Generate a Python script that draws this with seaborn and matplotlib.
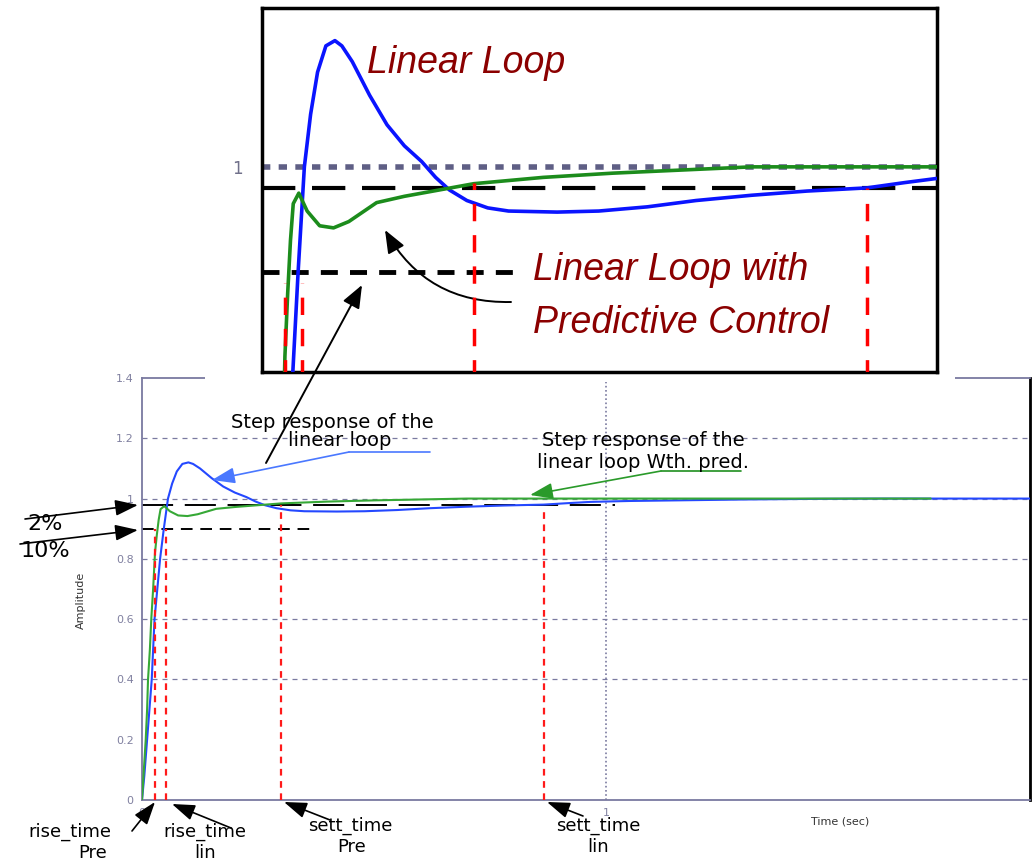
import numpy as np
import pandas as pd
import matplotlib
matplotlib.use("Agg")
import matplotlib.pyplot as plt
import seaborn as sns
from matplotlib.patches import Rectangle

# ---------------- data ----------------
t_lin = [0.000, 0.005, 0.010, 0.015, 0.021, 0.027, 0.033, 0.039, 0.047, 0.056,
         0.065, 0.075, 0.087, 0.100, 0.110, 0.125, 0.150, 0.175, 0.200, 0.225,
         0.245, 0.265, 0.290, 0.320, 0.350, 0.420, 0.480, 0.550, 0.620, 0.700,
         0.780, 0.866, 0.920, 0.967, 1.050, 1.150, 1.300, 1.450, 1.600, 1.914]
y_lin = [0.000, 0.080, 0.180, 0.280, 0.400, 0.600, 0.700, 0.800, 0.900, 1.000,
         1.050, 1.090, 1.115, 1.120, 1.115, 1.100, 1.068, 1.040, 1.020, 1.005,
         0.990, 0.978, 0.968, 0.961, 0.958, 0.957, 0.958, 0.962, 0.968, 0.973,
         0.977, 0.980, 0.985, 0.989, 0.992, 0.994, 0.997, 0.999, 1.000, 1.000]

t_pre = [0.000, 0.004, 0.008, 0.011, 0.013, 0.017, 0.020, 0.024, 0.028, 0.032,
         0.036, 0.040, 0.048, 0.060, 0.078, 0.098, 0.120, 0.160, 0.200, 0.250,
         0.300, 0.350, 0.400, 0.500, 0.600, 0.700, 1.700]
y_pre = [0.000, 0.100, 0.200, 0.300, 0.400, 0.500, 0.600, 0.700, 0.820, 0.880,
         0.930, 0.965, 0.975, 0.958, 0.944, 0.942, 0.948, 0.966, 0.972, 0.978,
         0.984, 0.987, 0.990, 0.994, 0.997, 1.000, 1.000]

y_ticks = [0, 0.2, 0.4, 0.6, 0.8, 1.0, 1.2, 1.4]
y_tick_labels = ["0", "0.2", "0.4", "0.6", "0.8", "1", "1.2", "1.4"]
x_ticks = [0, 1]
x_tick_labels = ["0", "1"]
grid_levels = [0.4, 0.6, 0.8, 1.0, 1.2]
grid_times = [1.0]

band_2pct = 0.98
band_10pct = 0.90
marker_times = [0.028, 0.052, 0.30, 0.866]      # rise Pre, rise lin, sett Pre, sett lin
marker_tops_main = [0.90, 0.90, 0.98, 0.97]
marker_tops_inset = [0.89, 0.89, 0.985, 0.98]

# ---------------- style ----------------
sns.set_theme(style="white")
plt.rcParams['font.family'] = ['DejaVu Sans']

W, H = 1034, 864
fig = plt.figure(figsize=(W / 100, H / 100), dpi=100)
fig.patch.set_facecolor('white')

def fx(x):
    return x / W

def fy(y):
    return 1 - y / H

def P(x, y):
    return (x, H - y)

BLUE_M, GREEN_M = '#2448ff', '#36a836'
BLUE_I, GREEN_I = '#0a14ff', '#1c8c1c'
SPINE = '#7a7aa0'

df_lin = pd.DataFrame({"t": t_lin, "y": y_lin})
df_pre = pd.DataFrame({"t": t_pre, "y": y_pre})

# ---------------- main axes ----------------
ax = fig.add_axes([fx(142), fy(800), 888 / W, 422 / H])
ax.set_zorder(0)
ax.set_facecolor('white')

for g in grid_levels:
    ax.axhline(g, color=SPINE, lw=0.9, dashes=(4, 4), zorder=1)
for g in grid_times:
    ax.axvline(g, color=SPINE, lw=1.2, dashes=(1, 1.5), zorder=1)

ax.hlines(band_2pct, 0, 1.02, color='black', lw=1.4, linestyles=(0, (16, 6)), zorder=2)
ax.hlines(band_10pct, 0, 0.366, color='black', lw=1.4, linestyles=(0, (6, 4)), zorder=2)
for tm, top in zip(marker_times, marker_tops_main):
    ax.vlines(tm, 0, top, color='#ff1a1a', lw=1.6, linestyles=(0, (3, 2.5)), zorder=4)

sns.lineplot(data=df_lin, x="t", y="y", ax=ax, color=BLUE_M, lw=1.5,
             estimator=None, sort=False, zorder=3)
sns.lineplot(data=df_pre, x="t", y="y", ax=ax, color=GREEN_M, lw=1.5,
             estimator=None, sort=False, zorder=3)

ax.set_xlim(0, 1.914)
ax.set_ylim(0, 1.4)
ax.set_yticks(y_ticks)
ax.set_yticklabels(y_tick_labels)
ax.set_xticks(x_ticks)
ax.set_xticklabels(x_tick_labels)
ax.tick_params(axis='both', length=0, labelsize=8, labelcolor='#8080a0', pad=6)
ax.set_xlabel("Time (sec)", fontsize=8, color='#333333')
ax.set_ylabel("Amplitude", fontsize=8, color='#333333')
ax.xaxis.set_label_coords((840 - 142) / 888, (800 - 816) / 422)
ax.yaxis.set_label_coords((86 - 142) / 888, (800 - 600) / 422)
for s in ['left', 'bottom', 'top']:
    ax.spines[s].set_color(SPINE)
    ax.spines[s].set_linewidth(1.3)
ax.spines['right'].set_color('black')
ax.spines['right'].set_linewidth(2)

# white patch hiding part of the main top border
fig.add_artist(Rectangle((fx(205), fy(382)), 750 / W, 26 / H, transform=fig.transFigure,
                         facecolor='white', edgecolor='none', zorder=1))

# ---------------- inset ----------------
axi = fig.add_axes([fx(262), fy(372), 675 / W, 364 / H])
axi.set_zorder(2)
axi.set_facecolor('white')
axi.axhline(1.0, color='#5f5f85', lw=4, dashes=(1.5, 1.5), zorder=1)
axi.axhline(band_2pct, color='black', lw=3, dashes=(8, 4), zorder=2)
axi.hlines(band_10pct, -0.005, 0.366, color='black', lw=3.5, linestyles=(0, (3.5, 2.5)), zorder=2)
for tm, top in zip(marker_times, marker_tops_inset):
    axi.vlines(tm, 0.80, top, color='#ff0000', lw=2.5, linestyles=(0, (5, 4)), zorder=4)
sns.lineplot(data=df_lin, x="t", y="y", ax=axi, color=BLUE_I, lw=2.6,
             estimator=None, sort=False, zorder=3)
sns.lineplot(data=df_pre, x="t", y="y", ax=axi, color=GREEN_I, lw=2.6,
             estimator=None, sort=False, zorder=3)
axi.set_xlim(-0.005, 0.967)
axi.set_ylim(0.805, 1.151)
axi.set_xticks([])
axi.set_yticks([1.0])
axi.set_yticklabels(["1"])
axi.tick_params(axis='y', length=0, pad=14, labelsize=12, labelcolor='#70708a')
axi.set_xlabel("")
axi.set_ylabel("")
for s in axi.spines.values():
    s.set_color('black')
    s.set_linewidth(2.5)

RED = '#8b0000'
ital = dict(family=['Liberation Sans Narrow', 'Liberation Sans'], style='italic',
            color=RED, fontsize=27, va='center', ha='left', zorder=6)
fig.text(fx(367), fy(63), "Linear Loop", **ital)
fig.text(fx(533), fy(270), "Linear Loop with", **ital)
fig.text(fx(533), fy(323), "Predictive Control", **ital)

# ---------------- annotations ----------------
def arrow(a, b, color='black', lw=1.2, hl=1.0, hw=0.35, ms=14, conn="arc3"):
    axi.annotate('', xy=P(*b), xycoords='figure pixels', xytext=P(*a),
                 textcoords='figure pixels', annotation_clip=False,
                 arrowprops=dict(arrowstyle=f'-|>,head_length={hl},head_width={hw}',
                                 color=color, lw=lw, mutation_scale=ms,
                                 shrinkA=0, shrinkB=0, connectionstyle=conn))

def seg(a, b, color, lw=1.2):
    axi.annotate('', xy=P(*b), xycoords='figure pixels', xytext=P(*a),
                 textcoords='figure pixels', annotation_clip=False,
                 arrowprops=dict(arrowstyle='-', color=color, lw=lw, shrinkA=0, shrinkB=0))

# bottom labels
lab = dict(fontsize=13, color='black', ha='center', va='center', zorder=6)
fig.text(fx(70), fy(832), "rise_time", **lab)
fig.text(fx(93), fy(853), "Pre", **lab)
fig.text(fx(205), fy(832), "rise_time", **lab)
fig.text(fx(205), fy(853), "lin", **lab)
fig.text(fx(350), fy(826), "sett_time", **lab)
fig.text(fx(352), fy(847), "Pre", **lab)
fig.text(fx(598), fy(826), "sett_time", **lab)
fig.text(fx(598), fy(847), "lin", **lab)
arrow((132, 831), (155, 802))
arrow((231, 828), (172, 804))
arrow((330, 820), (284, 802))
arrow((583, 816), (547, 802))

# 2% / 10%
fig.text(fx(45), fy(524), "2%", fontsize=16, color='black', ha='center', va='center', zorder=6)
fig.text(fx(45), fy(551), "10%", fontsize=16, color='black', ha='center', va='center', zorder=6)
arrow((25, 519), (138, 505))
arrow((20, 544), (138, 530))

# step response labels
fig.text(fx(332), fy(422), "Step response of the", fontsize=14, color='black',
         ha='center', va='center', zorder=6)
fig.text(fx(340), fy(441), "linear loop", fontsize=14, color='black',
         ha='center', va='center', zorder=6)
seg((349, 452), (430, 452), '#4a78ff')
arrow((349, 452), (212, 480), color='#4a78ff', lw=1.2)

fig.text(fx(643), fy(441), "Step response of the", fontsize=14, color='black',
         ha='center', va='center', zorder=6)
fig.text(fx(643), fy(462), "linear loop Wth. pred.", fontsize=14, color='black',
         ha='center', va='center', zorder=6)
seg((661, 471), (741, 471), '#1f8f1f')
arrow((661, 471), (530, 495), color='#2a9a2a', lw=1.2)

# link from main plot to inset
arrow((266, 463), (362, 285), lw=1.4, hl=1.0, hw=0.4, ms=14)
# curved arrow inside inset
arrow((511, 302), (385, 230), lw=1.4, hl=1.0, hw=0.4, ms=14, conn="arc3,rad=-0.3")

fig.savefig("out.png", dpi=100, facecolor='white')
